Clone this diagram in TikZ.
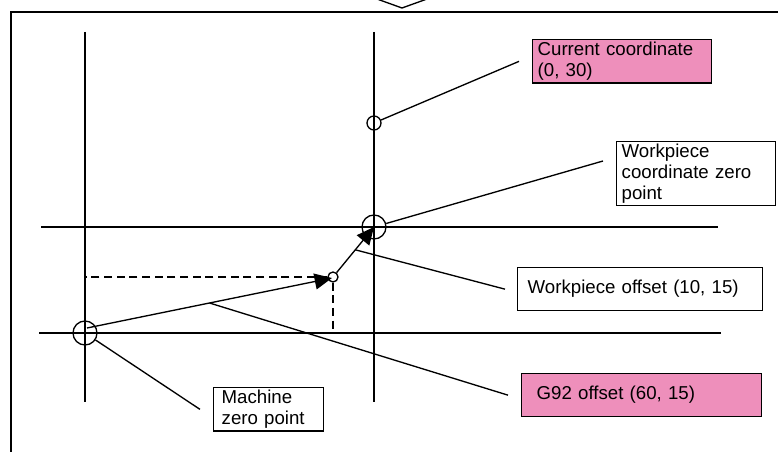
\documentclass[tikz,border=0pt]{standalone}
\usepackage{fontspec}
\setmainfont{Liberation Sans}
\usetikzlibrary{arrows.meta, calc}
\definecolor{mypink}{RGB}{238, 143, 187}

\tikzset{
  axis/.style={line width=1pt},
  leader/.style={line width=1pt},
  zeropt/.style={draw, circle, line width=1pt, inner sep=0pt},
  projline/.style={line width=1pt, dash pattern=on 6pt off 3.5pt},
  offsetarrow/.style={line width=1pt, -{Triangle[length=13pt, width=12pt]}},
  labelbox/.style={draw, line width=1pt, anchor=north west, align=left, inner ysep=2pt, font=\fontsize{14}{15.5}\selectfont},
  pinkbox/.style={labelbox, fill=mypink}
}

\begin{document}
\begin{tikzpicture}[x=0.75pt, y=-0.75pt]
                \useasboundingbox (0,0) rectangle (778,452);

                % --- Frame ---
                \draw[line width=1.4pt] (11,452) -- (11,12) -- (780,12);
                \draw[line width=1pt] (377,-1) -- (402,8) -- (427,-1);

                % --- Axes ---
                \draw[axis] (85,32) -- (85,402);
                \draw[axis] (374,32) -- (374,402);
                \draw[axis] (41,227) -- (718,227);
                \draw[axis] (39,333) -- (721,333);

                % --- Points ---
                \node[zeropt, minimum size=18pt] (mz) at (85,333) {};
                \node[zeropt, minimum size=18pt] (wz) at (374,227) {};
                \node[zeropt, minimum size=10.5pt] (cc) at (374,123) {};
                \node[zeropt, minimum size=7.5pt] (mid) at (333,277) {};

                % --- Dashed projections ---
                \draw[projline] (mid.west) -- (mid.west -| mz.center);
                \draw[projline] (mid.south) -- (mid.south |- mz.center);

                % --- Offset arrows ---
                \draw[offsetarrow] ($(mz.center)+(2,-5)$) -- coordinate[pos=0.5] (g92pt) ($(mid.center)+(-1,1)$);
                \draw[offsetarrow] (mid) -- coordinate[pos=0.5] (woffpt) (wz.center);

                % --- Labels ---
                \node[pinkbox, text width=126.75pt, minimum height=32.25pt, inner xsep=3.75pt] (cur) at (532,39) {Current coordinate\\(0, 30)};
                \node[labelbox, text width=111.75pt, minimum height=48pt, inner xsep=3.75pt] (wzl) at (616,141) {Workpiece\\coordinate zero\\point};
                \node[labelbox, text width=168.75pt, minimum height=32.25pt, inner xsep=7.5pt] (woff) at (517,267) {Workpiece offset (10, 15)};
                \node[pinkbox, text width=157.5pt, minimum height=32.25pt, inner xsep=11.25pt] (g92) at (521,373) {G92 offset (60, 15)};
                \node[labelbox, text width=70.5pt, minimum height=32.25pt, inner xsep=6pt] (mzl) at (213,387) {Machine\\zero point};

                % --- Leader lines ---
                \draw[leader] (cc) -- ($(cur.west)+(-13,0)$);
                \draw[leader] (wz) -- ($(wzl.north west)+(-13,20)$);
                \draw[leader] (woffpt) -- ($(woff.west)+(-12,0)$);
                \draw[leader] (g92pt) -- ($(g92.west)+(-13,0)$);
                \draw[leader] (mz) -- ($(mzl.west)+(-13,0)$);
\end{tikzpicture}
\end{document}
